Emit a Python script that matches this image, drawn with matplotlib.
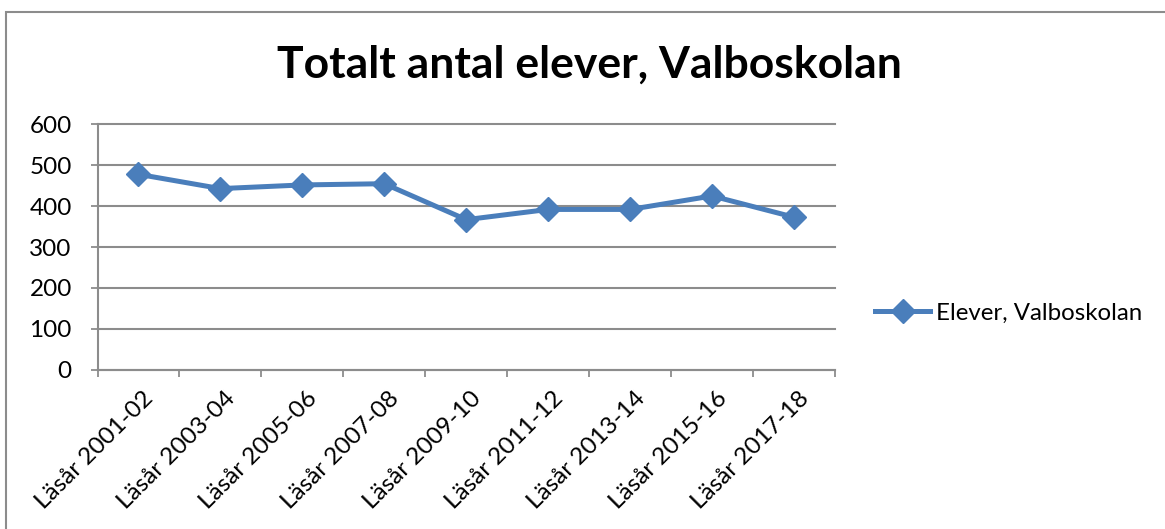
import numpy as np
import matplotlib.pyplot as plt
from matplotlib.patches import Rectangle
import matplotlib.transforms as mtransforms

# data
years = ['Läsår 2001-02', 'Läsår 2003-04', 'Läsår 2005-06', 'Läsår 2007-08',
         'Läsår 2009-10', 'Läsår 2011-12', 'Läsår 2013-14', 'Läsår 2015-16',
         'Läsår 2017-18']
elever = [478, 443, 452, 455, 367, 392, 392, 425, 373]
y_ticks = [0, 100, 200, 300, 400, 500, 600]

plt.rcParams['font.family'] = ['Lato', 'DejaVu Sans']

fig = plt.figure(figsize=(11.65, 5.29), dpi=100)

# outer chart frame like excel
fig.patches.append(Rectangle((6/1165, -0.1), 1.2, (529-12)/529 + 0.1,
                             transform=fig.transFigure, fill=False,
                             edgecolor='#8c8c8c', linewidth=1.5))

ax = fig.add_axes([97.5/1165, (529-369.5)/529, 737.5/1165, 245/529])
x = np.arange(len(years))
line, = ax.plot(x, elever, color='#4a7ebb', linewidth=3.6, marker='D',
                markersize=12.5, label='Elever, Valboskolan', zorder=3)

ax.set_xlim(-0.5, len(years) - 0.5)
ax.set_ylim(0, 600)
ax.set_yticks(y_ticks)
ax.set_xticks(x)
ax.set_xticklabels(years, rotation=45, ha='right', rotation_mode='anchor')
ax.set_xticks(np.arange(len(years) + 1) - 0.5, minor=True)
ax.tick_params(axis='x', which='major', length=0, pad=13, labelsize=17.5)
ax.tick_params(axis='x', which='minor', length=5, width=1.3, color='#8c8c8c')
ax.tick_params(axis='y', length=5, width=1.3, color='#8c8c8c', labelsize=17.5, pad=13.5)
# nudge the rotated labels a little to the right
offset = mtransforms.ScaledTranslation(4/100, 0, fig.dpi_scale_trans)
for lbl in ax.get_xticklabels():
    lbl.set_transform(lbl.get_transform() + offset)

ax.grid(axis='y', color='#8c8c8c', linewidth=1.5)
for gl in ax.get_ygridlines():
    gl.set_clip_on(False)
ax.set_axisbelow(True)
for s in ['top', 'right']:
    ax.spines[s].set_visible(False)
for s in ['left', 'bottom']:
    ax.spines[s].set_color('#8c8c8c')
    ax.spines[s].set_linewidth(1.5)

fig.text(589/1165, 1 - 65/529, 'Totalt antal elever, Valboskolan',
         ha='center', va='center', fontsize=32, fontweight='bold')

fig.legend(handles=[line], loc='center left', frameon=False, fontsize=17.3,
           bbox_to_anchor=(875/1165, 1 - 313/529), handlelength=2.3,
           handletextpad=0.25, borderaxespad=0, borderpad=0)

fig.savefig('out.png', dpi=100)
